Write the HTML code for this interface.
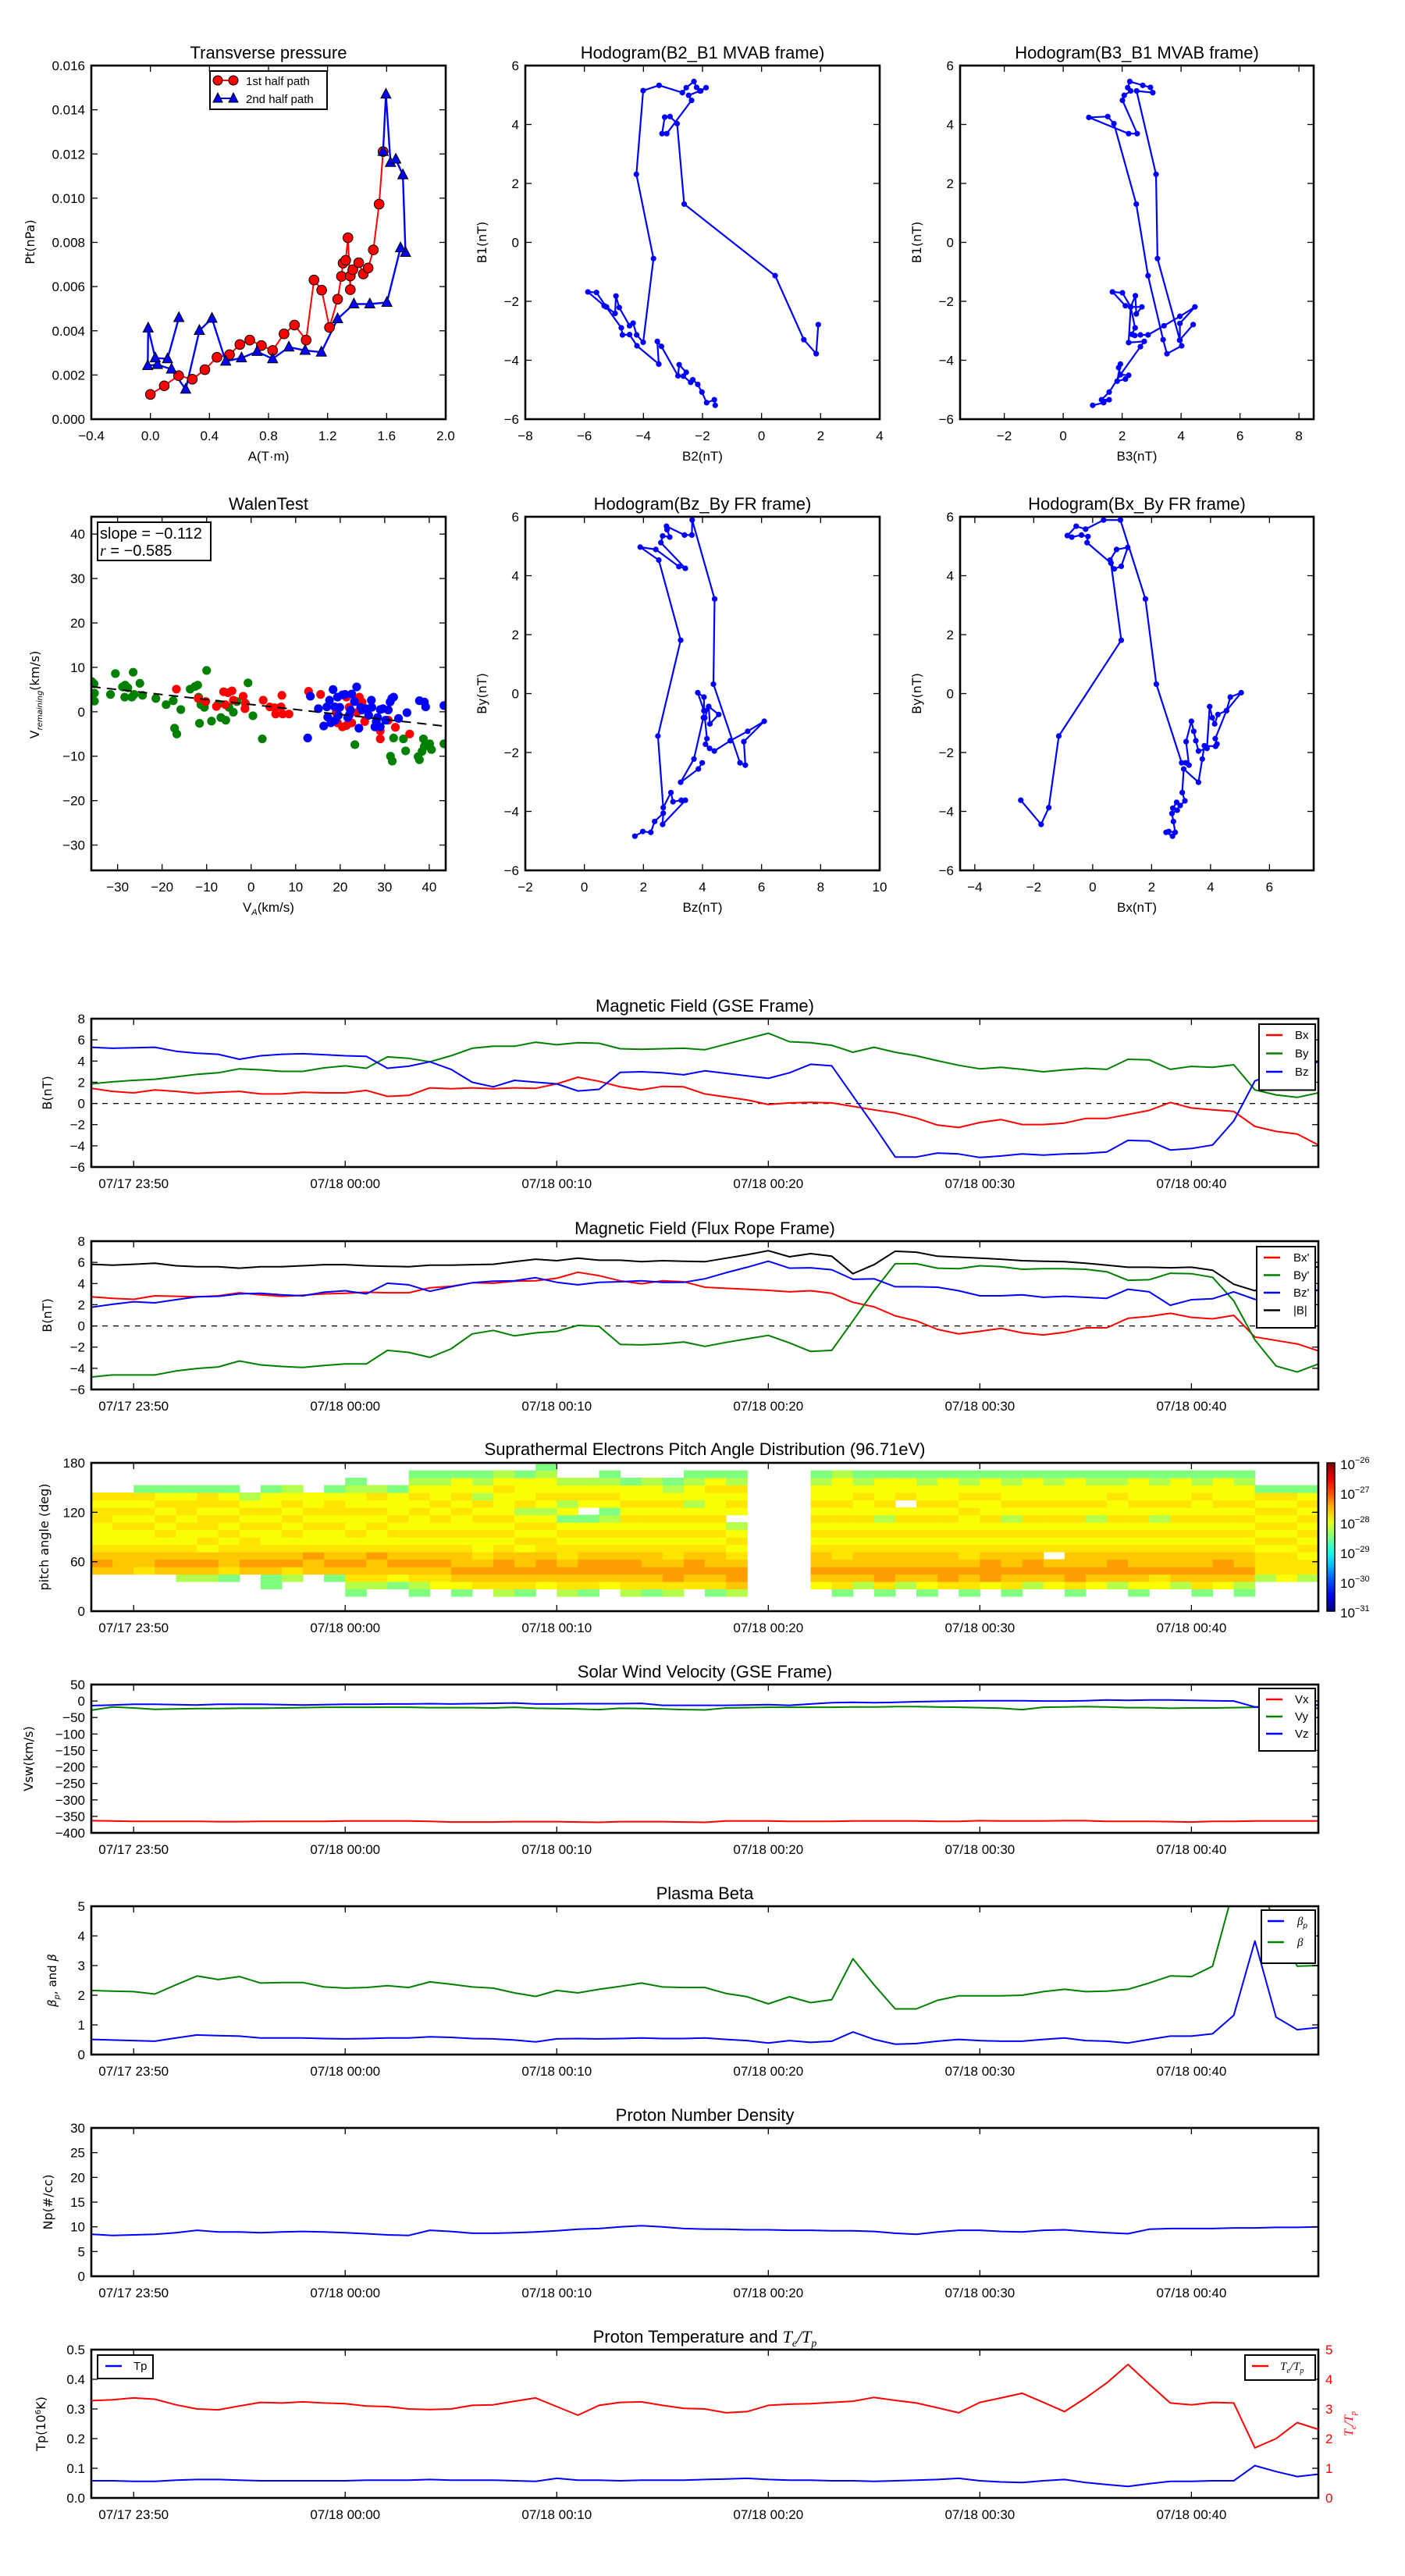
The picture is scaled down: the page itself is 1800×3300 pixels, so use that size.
<!DOCTYPE html>
<html><head><meta charset="utf-8"><title>Flux rope analysis</title>
<style>html,body{margin:0;padding:0;background:#fff}svg{display:block}</style></head>
<body>
<svg id="fig" width="1800" height="3300" viewBox="0 0 1800 3300" xmlns="http://www.w3.org/2000/svg">
<rect x="0" y="0" width="1800" height="3300" fill="#fff"/>
<defs id="defs"></defs>
</svg>
<script>
// ---------------- DATA ----------------
const ptA1=[0,0.094,0.191,0.284,0.369,0.451,0.536,0.606,0.673,0.752,0.828,0.905,0.976,1.055,1.108,1.160,1.213,1.268,1.294,1.305,1.323,1.338,1.354,1.354,1.371,1.411,1.442,1.475,1.510,1.549,1.576];
const ptP1=[0.00112,0.00151,0.00197,0.00181,0.00224,0.00280,0.00292,0.00338,0.00358,0.00333,0.00311,0.00386,0.00426,0.00358,0.00630,0.00584,0.00415,0.00543,0.00646,0.00706,0.00719,0.00821,0.00586,0.00648,0.00676,0.00708,0.00657,0.00684,0.00766,0.00973,0.01211];
const ptA2=[1.576,1.595,1.626,1.662,1.710,1.728,1.694,1.602,1.486,1.378,1.268,1.158,1.048,0.938,0.828,0.723,0.617,0.510,0.417,0.332,0.239,0.143,0.048,-0.018,-0.015,0.033,0.116,0.193];
const ptP2=[0.01211,0.01470,0.01161,0.01176,0.01105,0.00754,0.00775,0.00528,0.00521,0.00521,0.00454,0.00303,0.00311,0.00326,0.00273,0.00306,0.00277,0.00262,0.00456,0.00401,0.00135,0.00226,0.00247,0.00242,0.00412,0.00277,0.00273,0.00459];
const p2x=[1.92,1.85,1.43,0.46,-2.62,-2.86,-3.10,-3.28,-3.37,-3.21,-2.37,-2.47,-2.09,-1.88,-2.06,-2.20,-2.29,-2.55,-2.68,-3.47,-4.01,-4.24,-3.66,-4.01,-4.23,-4.35,-4.47,-4.82,-4.93,-4.96,-5.25,-5.33,-5.88,-5.59,-5.26,-4.75,-4.71,-4.47,-4.22,-3.48,-3.53,-3.39,-2.83,-2.79,-2.55,-2.65,-2.40,-2.33,-2.16,-2.02,-1.86,-1.60,-1.57];
const p2y=[-2.79,-3.78,-3.30,-1.13,1.30,4.03,4.27,4.25,3.69,3.69,4.82,4.99,5.14,5.25,5.14,5.26,5.46,5.25,5.08,5.33,5.15,2.31,-0.55,-3.39,-3.14,-2.74,-2.83,-2.21,-1.82,-2.41,-2.19,-2.15,-1.68,-1.70,-2.19,-2.90,-3.14,-3.13,-3.51,-4.13,-3.36,-3.53,-4.53,-4.15,-4.41,-4.54,-4.75,-4.66,-4.82,-5.08,-5.44,-5.34,-5.53];
const p3x=[4.41,3.95,4.02,3.52,3.39,2.88,2.48,1.72,1.51,0.87,2.22,2.51,2.01,2.07,2.29,2.19,2.26,2.70,2.96,3.04,2.49,3.15,3.20,3.96,3.96,4.47,3.96,3.42,2.88,2.62,2.43,2.33,2.44,2.29,2.11,1.67,2.01,2.29,2.45,2.48,2.67,2.29,2.22,2.75,2.62,1.94,1.88,1.94,1.83,2.11,2.22,1.94,1.56,1.30,1.56,1.37,1.00];
const p3y=[-2.79,-3.32,-3.51,-3.78,-3.30,-1.13,1.30,4.03,4.27,4.24,3.69,3.69,4.82,4.99,5.14,5.25,5.46,5.33,5.26,5.08,5.14,2.31,-0.55,-3.32,-2.75,-2.19,-2.51,-2.83,-3.14,-3.14,-3.16,-3.12,-2.90,-2.19,-2.15,-1.68,-1.71,-2.19,-1.81,-2.43,-2.19,-2.19,-3.40,-3.36,-3.54,-4.49,-4.25,-4.13,-4.71,-4.64,-4.51,-4.49,-5.08,-5.34,-5.34,-5.44,-5.53];
const p5x=[1.71,1.98,2.25,2.38,2.67,2.65,3.42,3.28,3.00,2.93,2.67,2.49,3.26,2.52,1.89,2.42,3.20,3.42,2.59,2.65,2.89,2.80,2.78,3.39,3.64,3.65,4.41,4.37,5.27,5.45,5.40,6.09,5.53,4.94,4.40,4.24,4.10,4.15,4.08,4.21,4.55,4.25,4.21,4.05,4.05,3.84,4.05,4.03,3.71,3.26,3.86,3.99];
const p5y=[-4.84,-4.68,-4.71,-4.34,-4.06,-4.44,-3.62,-3.62,-3.67,-3.36,-3.87,-1.44,1.81,4.53,4.97,4.89,4.31,4.25,5.12,5.35,5.31,5.56,5.68,5.38,5.38,5.89,3.21,0.32,-2.35,-2.43,-1.63,-0.94,-1.28,-1.60,-1.95,-1.86,-1.72,-1.53,-0.82,-0.44,-0.71,-1.03,-0.44,-0.58,-0.12,0.03,-0.58,-0.82,-2.22,-3.01,-2.56,-2.35];
const p6x=[-2.44,-1.75,-1.49,-1.15,0.97,0.62,0.59,0.81,1.19,0.97,0.73,0.62,-0.19,-0.16,-0.38,-0.71,-0.86,-0.56,-0.24,0.37,0.94,1.79,2.16,3.02,3.16,3.27,3.17,3.35,3.43,3.50,3.59,3.88,3.97,4.06,4.14,4.25,4.54,4.67,5.04,4.54,4.16,4.22,4.17,3.79,3.72,3.59,3.09,3.04,3.13,2.97,2.85,2.72,2.87,2.69,2.74,2.80,2.58,2.49,2.71];
const p6y=[-3.62,-4.44,-3.87,-1.44,1.81,4.43,4.53,4.89,4.96,4.32,4.23,4.43,5.12,5.33,5.38,5.31,5.36,5.68,5.58,5.89,5.89,3.21,0.32,-2.35,-2.35,-2.43,-1.63,-0.94,-1.28,-1.60,-1.95,-1.86,-0.44,-0.82,-1.03,-0.71,-0.58,-0.12,0.03,-0.58,-1.53,-1.71,-1.79,-1.77,-2.22,-3.01,-2.56,-3.36,-3.64,-3.80,-3.69,-3.89,-3.96,-4.07,-4.34,-4.71,-4.68,-4.71,-4.84];
const walenGreenX=[-35.8,-35.3,-35.2,-35.2,-31.6,-30.5,-28.9,-28.3,-27.7,-28.4,-26.8,-26.5,-26.3,-25.0,-24.4,-21.4,-19.1,-17.5,-15.8,-17.2,-16.7,-13.7,-12.6,-12.0,-11.8,-11.3,-10.5,-11.6,-10.0,-8.9,-7.4,-6.8,-5.7,-5.0,-4.0,-3.2,-0.7,0.4,2.5,23.3,31.3,31.7,32.0,34.2,34.7,37.5,37.8,38.4,38.7,38.9,40.1,40.5,43.3];
const walenGreenY=[6.8,6.3,4.2,2.4,3.9,8.6,5.6,6.0,5.4,3.3,3.3,8.9,3.9,6.4,3.7,3.0,1.6,2.5,0.5,-3.7,-5.0,5.1,5.7,6.0,3.3,1.6,1.0,-2.6,9.3,-2.1,1.7,-1.3,-1.9,1.0,-0.1,2.3,6.5,-0.9,-6.1,-7.4,-10.0,-11.1,-5.9,-6.1,-8.8,-10.1,-10.8,-8.9,-6.1,-7.8,-7.2,-8.5,-7.2];
const walenRedX=[-16.8,-11.9,-10.2,-7.8,-6.2,-5.2,-4.3,-5.8,-4.0,-1.8,-1.4,-1.3,2.7,4.2,5.3,5.5,6.9,6.7,7.1,8.5,12.9,15.6,19.1,19.4,20.5,21.4,22.6,23.7,24.3,24.9,25.5,29.0,29.0,30.8,32.4,35.6,21.4,22.0];
const walenRedY=[5.1,3.0,2.3,1.2,4.5,4.3,4.7,1.6,2.6,3.5,0.7,1.9,2.6,1.1,0.9,-0.5,3.7,1.1,-0.5,-0.5,4.6,3.9,-0.2,-2.5,-3.4,-3.1,-2.5,-0.2,3.3,2.2,-2.2,-4.3,-6.1,-1.9,-3.5,-5.0,3.3,1.0];
const walenBlueX=[13.3,12.7,15.1,16.3,17.0,17.2,17.6,18.4,18.8,18.9,19.4,19.9,20.5,21.1,21.7,22.3,22.6,23.2,23.7,24.2,24.6,25.8,26.4,27.0,27.1,27.8,28.4,29.0,29.6,30.2,30.8,31.2,31.6,32.0,33.1,35.0,37.8,38.9,39.2,43.3,17.9,19.6,22.0,24.9,28.1,29.0];
const walenBlueY=[3.5,-5.9,0.7,-3.2,1.1,-1.2,2.6,5.0,1.1,-1.9,3.3,1.0,3.8,3.9,-1.3,0.4,4.0,2.3,5.6,-3.7,1.0,0.7,-0.8,2.6,1.0,-3.4,-1.3,0.5,0.7,-1.9,0.4,2.2,3.0,3.3,-1.5,-0.2,2.5,2.2,1.1,1.4,-2.5,-0.8,-0.8,0.4,-2.2,-3.4];
const walenSlope=-0.112;
const walenIntercept=1.64;
const walenR=-0.585;

const minutes=[-2,-1,0,1,2,3,4,5,6,7,8,9,10,11,12,13,14,15,16,17,18,19,20,21,22,23,24,25,26,27,28,29,30,31,32,33,34,35,36,37,38,39,40,41,42,43,44,45,46,47,48,49,50,51,52,53,54,55,56];
const timeTicks=[0,10,20,30,40,50];
const timeTickLabels=['07/17 23:50','07/18 00:00','07/18 00:10','07/18 00:20','07/18 00:30','07/18 00:40'];

const gseBx=[1.43,1.14,1.0,1.28,1.14,0.95,1.05,1.14,0.9,0.9,1.05,1.0,1.0,1.23,0.67,0.76,1.47,1.38,1.47,1.38,1.47,1.43,1.85,2.47,2.09,1.57,1.28,1.61,1.57,0.9,0.62,0.33,-0.1,0.05,0.09,0.05,-0.28,-0.61,-0.9,-1.38,-2.04,-2.27,-1.8,-1.52,-1.99,-1.99,-1.85,-1.42,-1.42,-1.04,-0.66,0.09,-0.43,-0.61,-0.75,-2.17,-2.64,-2.88,-3.92];
const gseBy=[1.85,2.04,2.18,2.28,2.51,2.75,2.89,3.27,3.17,3.03,3.03,3.36,3.55,3.32,4.4,4.26,3.93,4.5,5.21,5.4,5.4,5.78,5.54,5.73,5.68,5.16,5.11,5.16,5.21,5.07,5.59,6.11,6.63,5.83,5.73,5.49,4.83,5.3,4.83,4.5,4.03,3.6,3.27,3.41,3.22,2.99,3.17,3.32,3.22,4.17,4.12,3.22,3.5,3.41,3.65,1.28,0.81,0.57,1.0];
const gseBz=[5.3,5.21,5.25,5.3,4.93,4.74,4.64,4.17,4.5,4.64,4.69,4.6,4.5,4.45,3.32,3.51,3.93,3.22,2.0,1.57,2.18,2.0,1.85,1.18,1.33,2.94,2.99,2.89,2.7,3.08,2.84,2.61,2.37,2.89,3.7,3.55,0.71,-2.12,-5.06,-5.06,-4.68,-4.77,-5.1,-4.96,-4.77,-4.87,-4.77,-4.72,-4.58,-3.49,-3.54,-4.39,-4.25,-3.92,-1.65,2.13,2.84,3.32,3.93];
const frBx=[2.75,2.61,2.51,2.84,2.8,2.75,2.84,3.13,2.94,2.8,2.89,3.03,3.08,3.18,3.13,3.13,3.6,3.74,4.07,4.03,4.22,4.26,4.5,5.07,4.74,4.26,3.98,4.26,4.17,3.65,3.55,3.46,3.36,3.22,3.32,3.08,2.23,1.8,0.95,0.48,-0.33,-0.75,-0.51,-0.23,-0.66,-0.85,-0.61,-0.18,-0.18,0.72,0.9,1.19,0.81,0.67,1.0,-1.04,-1.37,-1.7,-2.36];
const frBy=[-4.82,-4.63,-4.63,-4.63,-4.25,-4.02,-3.87,-3.31,-3.68,-3.83,-3.92,-3.73,-3.59,-3.59,-2.31,-2.5,-2.97,-2.17,-0.75,-0.42,-0.94,-0.66,-0.51,0.05,-0.04,-1.74,-1.79,-1.7,-1.51,-1.93,-1.56,-1.22,-0.89,-1.6,-2.41,-2.31,0.48,3.32,5.87,5.87,5.45,5.4,5.68,5.59,5.35,5.4,5.4,5.35,5.11,4.31,4.36,4.97,4.93,4.59,2.37,-1.32,-3.78,-4.35,-3.59];
const frBz=[1.76,2.04,2.28,2.18,2.47,2.75,2.8,3.03,3.08,2.94,2.84,3.18,3.32,3.03,4.03,3.88,3.27,3.7,4.07,4.22,4.26,4.55,4.12,3.88,4.12,4.17,4.26,4.12,4.12,4.45,5.02,5.54,6.11,5.45,5.49,5.3,4.4,4.45,3.7,3.7,3.65,3.32,2.84,2.84,2.94,2.7,2.8,2.7,2.61,3.46,3.22,1.95,2.47,2.56,3.22,2.51,2.37,2.84,3.41];
const frBt=[5.82,5.73,5.82,5.92,5.68,5.59,5.59,5.45,5.59,5.59,5.68,5.78,5.78,5.68,5.63,5.59,5.73,5.73,5.78,5.82,6.06,6.3,6.16,6.39,6.2,6.2,6.06,6.16,6.11,6.06,6.39,6.72,7.1,6.53,6.82,6.58,4.93,5.78,7.05,6.96,6.58,6.49,6.39,6.3,6.16,6.11,6.06,5.92,5.73,5.54,5.54,5.49,5.54,5.26,3.93,3.32,4.26,5.2,5.59];

// pitch angle distribution: one string per 1-minute column (bottom 0deg -> top 180deg, 9deg bins)
const padCols=[
".....56543334434....",".....55543343434....",".....455433434341...",".....565434343431...",
"....2565433434431...","....2565343443441...","....1455434343431...",".....56544343432....",
"...11565433434331...","....2465434343432...",".....55643343433....","....1565433434431...",
"..1245654343343321..","...24556433434342...","...13565434343331...","..12456543433434321.",
"...3456543434343321.","..13565543433434331.","...4565433434342321.","..24566543434333432.",
"..14565534343243331.","...35665443432343321","..2456544343132432..","..14566543431.3432..",
"...3566543432134321.","..2456654343434331..","..1456554343434332..","..2466544343434321..",
"...4566543434323321.","..14565543434333431.","..2566543432.343421.","....................",
"....................","....................","...3565543434343321.","..14565443434343332.",
"...2565543434334321.","..14665543432343331.","...25655434343.4331.","..13565543434343321.",
"...4665543434343331.","..14565443433434321.","...3666543434334331.","..14565543432343321.",
"...2566543434343331.","...3565.43434343321.","..14665543434343331.","...3565543432343321.",
"...2566543434334321.","..13565543434343331.","...3465543432343321.","...2565543434343331.",
"..14565543434334321.","...3566543434343331.","..12565543434343321.","....2444343434341...",
"....3444343434341...","....2443434343431..."];
const padLevel={'1':-28.5,'2':-28.25,'3':-27.9,'4':-27.75,'5':-27.6,'6':-27.4};
const padBinDeg=9;

const velVx=[-363,-364,-365,-365,-365,-365,-366,-366,-365,-365,-365,-365,-364,-364,-364,-364,-365,-367,-367,-367,-366,-366,-366,-367,-368,-366,-366,-366,-367,-368,-364,-364,-364,-365,-365,-365,-364,-364,-364,-364,-365,-365,-363,-364,-364,-364,-363,-363,-365,-365,-365,-366,-367,-365,-365,-364,-364,-364,-364];
const velVy=[-28,-18,-21,-25,-24,-23,-23,-22,-22,-21,-20,-19,-19,-19,-19,-19,-20,-20,-20,-21,-19,-22,-23,-24,-26,-22,-23,-24,-26,-27,-21,-20,-19,-19,-19,-19,-18,-18,-17,-17,-18,-19,-20,-22,-26,-19,-18,-17,-18,-20,-20,-22,-21,-21,-20,-19,-18,-22,-22];
const velVz=[-14,-12,-10,-10,-11,-12,-10,-10,-10,-11,-12,-11,-10,-10,-9,-9,-8,-9,-8,-7,-6,-9,-9,-8,-8,-8,-7,-13,-13,-13,-13,-12,-11,-13,-9,-5,-4,-5,-4,-2,-1,0,1,1,1,0,0,1,3,2,3,3,2,1,0,-18,-14,-12,-12];
const betaTotal=[2.16,2.14,2.12,2.04,2.35,2.65,2.53,2.63,2.41,2.43,2.43,2.28,2.24,2.26,2.32,2.26,2.45,2.37,2.28,2.24,2.08,1.96,2.16,2.08,2.2,2.3,2.41,2.28,2.26,2.26,2.06,1.95,1.71,1.95,1.75,1.85,3.23,2.35,1.54,1.54,1.83,1.98,1.98,1.98,2.0,2.12,2.2,2.12,2.14,2.2,2.41,2.65,2.63,2.98,5.6,6.5,4.2,2.98,3.0];
const betaProton=[0.51,0.49,0.47,0.45,0.56,0.66,0.64,0.62,0.56,0.56,0.56,0.54,0.53,0.54,0.56,0.56,0.6,0.58,0.54,0.53,0.49,0.43,0.53,0.54,0.53,0.54,0.56,0.54,0.54,0.56,0.51,0.47,0.39,0.47,0.41,0.45,0.76,0.51,0.35,0.37,0.45,0.51,0.47,0.45,0.45,0.51,0.56,0.47,0.45,0.39,0.51,0.62,0.62,0.7,1.32,3.83,1.26,0.84,0.91];
const density=[8.5,8.26,8.37,8.5,8.8,9.3,8.95,8.95,8.8,8.95,9.07,8.95,8.8,8.6,8.37,8.26,9.3,9.07,8.7,8.7,8.8,8.95,9.2,9.5,9.65,10.0,10.23,10.0,9.65,9.53,9.5,9.4,9.4,9.3,9.3,9.2,9.2,9.07,8.7,8.5,8.95,9.3,9.3,9.07,8.95,9.3,9.4,9.07,8.8,8.6,9.5,9.65,9.65,9.65,9.77,9.77,9.88,9.88,10.0];
const tempTp=[0.058,0.058,0.056,0.056,0.06,0.062,0.062,0.06,0.058,0.058,0.058,0.058,0.058,0.06,0.06,0.06,0.062,0.06,0.06,0.06,0.058,0.056,0.066,0.06,0.06,0.058,0.06,0.06,0.06,0.062,0.064,0.066,0.062,0.06,0.06,0.058,0.058,0.056,0.058,0.06,0.062,0.066,0.058,0.054,0.052,0.058,0.062,0.052,0.045,0.039,0.048,0.056,0.056,0.058,0.058,0.109,0.089,0.072,0.08];
const tempRatio=[3.28,3.31,3.37,3.33,3.14,3.0,2.97,3.1,3.22,3.2,3.24,3.2,3.18,3.1,3.08,3.0,2.98,3.0,3.12,3.14,3.26,3.37,3.08,2.79,3.12,3.22,3.24,3.12,3.02,3.0,2.87,2.91,3.12,3.16,3.18,3.22,3.26,3.39,3.29,3.2,3.04,2.87,3.22,3.37,3.53,3.22,2.91,3.37,3.88,4.5,3.84,3.2,3.14,3.22,3.2,1.69,2.0,2.54,2.31];

// ---------------- DRAWING ----------------
const NS='http://www.w3.org/2000/svg';
const svg=document.getElementById('fig');
const defs=document.getElementById('defs');
const FONT='"Liberation Sans", Arial, sans-serif';
const DFONT='"DejaVu Sans", "Liberation Sans", sans-serif';
let clipN=0;
function mk(tag,attrs,parent,name){
  const e=document.createElementNS(NS,tag);
  for(const k in attrs) e.setAttribute(k,attrs[k]);
  
  
  (parent||svg).appendChild(e);
  return e;
}
function txt(s,x,y,opt,parent,name){
  const t=mk('text',Object.assign({x:x,y:y,'font-family':FONT,'font-size':17,fill:'#000'},opt||{}),parent,name);
  t.textContent=s;
  return t;
}
function fmt(v,d){const s=(d===undefined)?String(v):v.toFixed(d);return s.replace('-','\u2212');}
function axes(o){
  const g=mk('g',{},svg,o.name);
  const sx=v=>o.x+(v-o.xmin)/(o.xmax-o.xmin)*o.w;
  const sy=v=>o.y+o.h-(v-o.ymin)/(o.ymax-o.ymin)*o.h;
  const cid='clip'+(clipN++);
  const cp=mk('clipPath',{id:cid},defs,'clip-path');
  mk('rect',{x:o.x,y:o.y,width:o.w,height:o.h},cp,'clip-rect');
  const plot=mk('g',{'clip-path':'url(#'+cid+')'},g,'plot-area');
  return {o:o,sx:sx,sy:sy,g:g,plot:plot};
}
function finish(a,xt,xl,yt,yl,opt){
  opt=opt||{};
  const o=a.o,g=a.g;
  const tg=mk('g',{stroke:'#000','stroke-width':1.3},g,'ticks');
  xt.forEach((v,i)=>{
    const X=a.sx(v);
    mk('line',{x1:X,x2:X,y1:o.y+o.h,y2:o.y+o.h-8},tg,'x-tick');
    mk('line',{x1:X,x2:X,y1:o.y,y2:o.y+8},tg,'x-tick-top');
    txt(xl[i],X,o.y+o.h+(opt.xlOff||27),{'text-anchor':'middle'},g,'x-tick-label');
  });
  yt.forEach((v,i)=>{
    const Y=a.sy(v);
    mk('line',{x1:o.x,x2:o.x+8,y1:Y,y2:Y},tg,'y-tick');
    if(!opt.noRightTicks) mk('line',{x1:o.x+o.w,x2:o.x+o.w-8,y1:Y,y2:Y},tg,'y-tick-right');
    txt(yl[i],o.x-8,Y+6,{'text-anchor':'end'},g,'y-tick-label');
  });
  mk('rect',{x:o.x,y:o.y,width:o.w,height:o.h,fill:'none',stroke:'#000','stroke-width':2.6},g,'axes-frame');
}
function line(a,xs,ys,color,name,w,dash){
  const d=xs.map((x,i)=>(i?'L':'M')+a.sx(x).toFixed(1)+','+a.sy(ys[i]).toFixed(1)).join('');
  const attrs={d:d,fill:'none',stroke:color,'stroke-width':w||2,'stroke-linejoin':'round'};
  if(dash) attrs['stroke-dasharray']=dash;
  return mk('path',attrs,a.plot,name);
}
function title(s,x,y,name,size){return txt(s,x,y,{'text-anchor':'middle','font-size':size||22},svg,name);}
function ylabel(s,x,y,name,color){return txt(s,x,y,{'text-anchor':'middle','font-family':DFONT,'font-size':16,transform:'rotate(-90 '+x+' '+y+')',fill:color||'#000'},svg,name);}
function rangeTicks(a,b,s){const r=[];for(let v=a;v<=b+1e-9;v+=s)r.push(Math.round(v*1e6)/1e6);return r;}

// ---- Panel 1: Transverse pressure
(function(){
  const a=axes({name:'transverse-pressure-chart',x:117,y:84,w:454,h:453,xmin:-0.4,xmax:2.0,ymin:0,ymax:0.016});
  line(a,ptA1,ptP1,'#ff0000','first-half-line',2);
  line(a,ptA2,ptP2,'#0000ff','second-half-line',2.4);
  ptA1.forEach((x,i)=>{mk('circle',{cx:a.sx(x),cy:a.sy(ptP1[i]),r:6.3,fill:'#ff0000',stroke:'#000','stroke-width':1},a.plot,'first-half-marker');});
  ptA2.forEach((x,i)=>{const X=a.sx(x),Y=a.sy(ptP2[i]);mk('polygon',{points:(X)+','+(Y-7.5)+' '+(X-6.5)+','+(Y+5)+' '+(X+6.5)+','+(Y+5),fill:'#0000ff',stroke:'#000','stroke-width':1},a.plot,'second-half-marker');});
  const xt=rangeTicks(-0.4,2.0,0.4), yt=rangeTicks(0,0.016,0.002);
  finish(a,xt,xt.map(v=>fmt(v,1)),yt,yt.map(v=>fmt(v,3)));
  const lg=mk('g',{},svg,'pressure-legend');
  mk('rect',{x:269,y:91,width:150,height:49,fill:'#fff',stroke:'#000','stroke-width':2},lg,'legend-box');
  mk('line',{x1:279,x2:299,y1:103,y2:103,stroke:'#ff0000','stroke-width':2},lg,'legend-line-first');
  [279,299].forEach(X=>{mk('circle',{cx:X,cy:103,r:6,fill:'#ff0000',stroke:'#000','stroke-width':1},lg,'legend-marker-first');});
  txt('1st half path',315,109,{'font-size':15},lg,'legend-label-first');
  mk('line',{x1:279,x2:299,y1:126,y2:126,stroke:'#0000ff','stroke-width':2},lg,'legend-line-second');
  [279,299].forEach(X=>{mk('polygon',{points:X+','+(126-7)+' '+(X-6)+','+(126+5)+' '+(X+6)+','+(126+5),fill:'#0000ff',stroke:'#000','stroke-width':1},lg,'legend-marker-second');});
  txt('2nd half path',315,132,{'font-size':15},lg,'legend-label-second');
  title('Transverse pressure',344,75,'pressure-title');
  txt('A(T\u00b7m)',344,590,{'text-anchor':'middle'},svg,'pressure-x-label');
  ylabel('Pt(nPa)',44,310,'pressure-y-label');
})();

// ---- Hodograms
function hodo(o,xs,ys,xt,ttl,xlab,ylab){
  const a=axes(o);
  line(a,xs,ys,'#0000ff',o.name+'-path',2.2);
  xs.forEach((x,i)=>{mk('circle',{cx:a.sx(x),cy:a.sy(ys[i]),r:3.6,fill:'#0000ff'},a.plot,'hodogram-point');});
  const yt=rangeTicks(-6,6,2);
  finish(a,xt,xt.map(v=>fmt(v)),yt,yt.map(v=>fmt(v)));
  title(ttl,o.x+o.w/2,o.y-9,o.name+'-title');
  txt(xlab,o.x+o.w/2,o.y+o.h+53,{'text-anchor':'middle'},svg,o.name+'-x-label');
  ylabel(ylab,o.x-50,o.y+o.h/2,o.name+'-y-label');
}
hodo({name:'hodogram-b2-b1',x:673,y:84,w:454,h:453,xmin:-8,xmax:4,ymin:-6,ymax:6},p2x,p2y,rangeTicks(-8,4,2),'Hodogram(B2_B1 MVAB frame)','B2(nT)','B1(nT)');
hodo({name:'hodogram-b3-b1',x:1230,y:84,w:453,h:453,xmin:-3.5,xmax:8.5,ymin:-6,ymax:6},p3x,p3y,rangeTicks(-2,8,2),'Hodogram(B3_B1 MVAB frame)','B3(nT)','B1(nT)');
hodo({name:'hodogram-bz-by',x:673,y:662,w:454,h:453,xmin:-2,xmax:10,ymin:-6,ymax:6},p5x,p5y,rangeTicks(-2,10,2),'Hodogram(Bz_By FR frame)','Bz(nT)','By(nT)');
hodo({name:'hodogram-bx-by',x:1230,y:662,w:453,h:453,xmin:-4.5,xmax:7.5,ymin:-6,ymax:6},p6x,p6y,rangeTicks(-4,6,2),'Hodogram(Bx_By FR frame)','Bx(nT)','By(nT)');

// ---- Walen test
(function(){
  const a=axes({name:'walen-test-chart',x:117,y:662,w:454,h:453,xmin:-35.9,xmax:43.7,ymin:-35.7,ymax:43.9});
  [[walenGreenX,walenGreenY,'#008000','walen-point-green'],[walenRedX,walenRedY,'#ff0000','walen-point-red'],[walenBlueX,walenBlueY,'#0000ff','walen-point-blue']].forEach(s=>{
    s[0].forEach((x,i)=>{mk('circle',{cx:a.sx(x),cy:a.sy(s[1][i]),r:5.6,fill:s[2]},a.plot,s[3]);});
  });
  const fx=[a.o.xmin,a.o.xmax];
  line(a,fx,fx.map(x=>walenSlope*x+walenIntercept),'#000','walen-fit-line',2,'12,8');
  const xt=rangeTicks(-30,40,10),yt=rangeTicks(-30,40,10);
  finish(a,xt,xt.map(v=>fmt(v)),yt,yt.map(v=>fmt(v)));
  const b=mk('g',{},svg,'walen-stats-box');
  mk('rect',{x:125,y:669,width:145,height:49,fill:'#fff',stroke:'#000','stroke-width':2},b,'stats-box');
  txt('slope = '+fmt(walenSlope),128,690,{'font-size':20},b,'slope-text');
  const r=txt('',128,712,{'font-size':20},b,'r-text');
  r.innerHTML='<tspan font-style="italic" font-family="Liberation Serif, serif">r</tspan> = '+fmt(walenR);
  title('WalenTest',344,653,'walen-title');
  const xl=txt('',344,1168,{'text-anchor':'middle'},svg,'walen-x-label');
  xl.innerHTML='V<tspan font-size="11" dy="4" font-style="italic">A</tspan><tspan dy="-4">(km/s)</tspan>';
  const yl=txt('',50,890,{'text-anchor':'middle','font-family':DFONT,'font-size':16,transform:'rotate(-90 50 890)'},svg,'walen-y-label');
  yl.innerHTML='V<tspan font-size="10" dy="4" font-style="italic">remaining</tspan><tspan dy="-4">(km/s)</tspan>';
})();

// ---- Time series panels
const TX=117,TW=1572,TH=190;
function tpanel(name,top,ymin,ymax){
  return axes({name:name,x:TX,y:top,w:TW,h:TH,xmin:-2,xmax:56,ymin:ymin,ymax:ymax});
}
function legend(name,x,y,w,entries,lineX,textX,dy){
  const g=mk('g',{},svg,name);
  mk('rect',{x:x,y:y,width:w,height:entries.length*dy+14,fill:'#fff',stroke:'#000','stroke-width':2},g,'legend-box');
  entries.forEach((e,i)=>{
    const Y=y+14+i*dy;
    mk('line',{x1:lineX,x2:lineX+21,y1:Y,y2:Y,stroke:e[1],'stroke-width':2.4},g,'legend-line');
    const t=txt('',textX,Y+5,{'font-size':15},g,'legend-label');
    t.innerHTML=e[0];
  });
  return g;
}
const tl=timeTickLabels;

// GSE
(function(){
  const a=tpanel('magnetic-field-gse-chart',1305,-6,8);
  line(a,[-2,56],[0,0],'#000','zero-line',1.2,'7,7');
  line(a,minutes,gseBx,'#ff0000','gse-bx-line');
  line(a,minutes,gseBy,'#008000','gse-by-line');
  line(a,minutes,gseBz,'#0000ff','gse-bz-line');
  const yt=rangeTicks(-6,8,2);
  finish(a,timeTicks,tl,yt,yt.map(v=>fmt(v)));
  legend('gse-legend',1613,1312,72,[['Bx','#ff0000'],['By','#008000'],['Bz','#0000ff']],1622,1659,23.5);
  title('Magnetic Field (GSE Frame)',903,1296,'gse-title');
  ylabel('B(nT)',66,1400,'gse-y-label');
})();
// Flux rope
(function(){
  const a=tpanel('magnetic-field-fr-chart',1590,-6,8);
  line(a,[-2,56],[0,0],'#000','zero-line',1.2,'7,7');
  line(a,minutes,frBx,'#ff0000','fr-bx-line');
  line(a,minutes,frBy,'#008000','fr-by-line');
  line(a,minutes,frBz,'#0000ff','fr-bz-line');
  line(a,minutes,frBt,'#000000','fr-bt-line');
  const yt=rangeTicks(-6,8,2);
  finish(a,timeTicks,tl,yt,yt.map(v=>fmt(v)));
  legend('fr-legend',1610,1597,75,[["Bx'",'#ff0000'],["By'",'#008000'],["Bz'",'#0000ff'],['|B|','#000']],1619,1657,22.5);
  title('Magnetic Field (Flux Rope Frame)',903,1581,'fr-title');
  ylabel('B(nT)',66,1685,'fr-y-label');
})();
// PAD
function jet(v){v=Math.max(0,Math.min(1,v));const c=x=>Math.round(255*Math.max(0,Math.min(1,x)));return 'rgb('+c(1.5-Math.abs(4*v-3))+','+c(1.5-Math.abs(4*v-2))+','+c(1.5-Math.abs(4*v-1))+')';}
(function(){
  const a=tpanel('pitch-angle-chart',1874,0,180);
  const cg=mk('g',{},a.plot,'pad-cells');
  padCols.forEach((col,k)=>{
    const t0=minutes[k],t1=minutes[k]+1;
    for(let b=0;b<col.length;b++){
      const ch=col[b];
      if(ch==='.') continue;
      const lv=padLevel[ch];
      const x0=a.sx(t0),x1=a.sx(t1),y0=a.sy((b+1)*padBinDeg),y1=a.sy(b*padBinDeg);
      mk('rect',{x:x0.toFixed(1),y:y0.toFixed(1),width:(x1-x0+0.6).toFixed(1),height:(y1-y0+0.6).toFixed(1),fill:jet((lv+31)/5)},cg,'pad-cell');
    }
  });
  const yt=[0,60,120,180];
  finish(a,timeTicks,tl,yt,yt.map(v=>fmt(v)));
  const gr=mk('linearGradient',{id:'jetgrad',x1:0,y1:1,x2:0,y2:0},defs,'jet-gradient');
  for(let i=0;i<=10;i++){mk('stop',{offset:(i/10),'stop-color':jet(i/10)},gr,'gradient-stop');}
  const cb=mk('g',{},svg,'pad-colorbar');
  mk('rect',{x:1700,y:1874,width:10,height:190,fill:'url(#jetgrad)',stroke:'#000','stroke-width':1.5},cb,'colorbar-bar');
  [-26,-27,-28,-29,-30,-31].forEach((p,i)=>{
    const Y=1874+i*38;
    const t=txt('',1717,Y+8,{'font-size':17},cb,'colorbar-label');
    t.innerHTML='10<tspan font-size="11" dy="-8">'+fmt(p)+'</tspan>';
  });
  title('Suprathermal Electrons Pitch Angle Distribution (96.71eV)',903,1864,'pad-title');
  ylabel('pitch angle (deg)',62,1969,'pad-y-label');
})();
// Velocity
(function(){
  const a=tpanel('solar-wind-velocity-chart',2158,-400,50);
  line(a,minutes,velVx,'#ff0000','vx-line');
  line(a,minutes,velVy,'#008000','vy-line');
  line(a,minutes,velVz,'#0000ff','vz-line');
  const yt=rangeTicks(-400,50,50);
  finish(a,timeTicks,tl,yt,yt.map(v=>fmt(v)));
  legend('velocity-legend',1613,2163,72,[['Vx','#ff0000'],['Vy','#008000'],['Vz','#0000ff']],1622,1659,22);
  title('Solar Wind Velocity (GSE Frame)',903,2149,'velocity-title');
  ylabel('Vsw(km/s)',42,2253,'velocity-y-label');
})();
// Beta
(function(){
  const a=tpanel('plasma-beta-chart',2442,0,5);
  line(a,minutes,betaTotal,'#008000','beta-line');
  line(a,minutes,betaProton,'#0000ff','beta-p-line');
  const yt=rangeTicks(0,5,1);
  finish(a,timeTicks,tl,yt,yt.map(v=>fmt(v)));
  legend('beta-legend',1616,2447,69,[['<tspan font-style="italic" font-family="Liberation Serif, serif">\u03b2</tspan><tspan font-size="10" dy="4" font-style="italic">p</tspan>','#0000ff'],['<tspan font-style="italic" font-family="Liberation Serif, serif">\u03b2</tspan>','#008000']],1624,1662,27);
  title('Plasma Beta',903,2433,'beta-title');
  const yl=txt('',72,2537,{'text-anchor':'middle','font-family':DFONT,'font-size':15,transform:'rotate(-90 72 2537)'},svg,'beta-y-label');
  yl.innerHTML='<tspan font-style="italic">\u03b2</tspan><tspan font-size="10" dy="4" font-style="italic">p</tspan><tspan dy="-4">, and </tspan><tspan font-style="italic">\u03b2</tspan>';
})();
// Density
(function(){
  const a=tpanel('proton-density-chart',2726,0,30);
  line(a,minutes,density,'#0000ff','density-line');
  const yt=rangeTicks(0,30,5);
  finish(a,timeTicks,tl,yt,yt.map(v=>fmt(v)));
  title('Proton Number Density',903,2717,'density-title');
  ylabel('Np(#/cc)',67,2821,'density-y-label');
})();
// Temperature
(function(){
  const a=tpanel('proton-temperature-chart',3010,0,0.5);
  const ar=axes({name:'temperature-ratio-axis',x:TX,y:3010,w:TW,h:TH,xmin:-2,xmax:56,ymin:0,ymax:5});
  line(ar,minutes,tempRatio,'#ff0000','te-tp-line');
  line(a,minutes,tempTp,'#0000ff','tp-line');
  const yt=rangeTicks(0,0.5,0.1);
  finish(a,timeTicks,tl,yt,yt.map(v=>fmt(v,1)),{noRightTicks:true});
  const rg=mk('g',{},svg,'right-axis');
  [0,1,2,3,4,5].forEach(v=>{
    const Y=ar.sy(v);
    mk('line',{x1:TX+TW,x2:TX+TW-8,y1:Y,y2:Y,stroke:'#000','stroke-width':1.3},rg,'right-tick');
    txt(String(v),TX+TW+9,Y+6,{fill:'#ff0000'},rg,'right-tick-label');
  });
  legend('tp-legend',125,3017,71,[['Tp','#0000ff']],135,171,16);
  legend('te-tp-legend',1595,3017,90,[['<tspan font-style="italic" font-family="Liberation Serif, serif">T<tspan font-size="10" dy="4">e</tspan><tspan dy="-4">/T</tspan><tspan font-size="10" dy="4">p</tspan></tspan>','#ff0000']],1604,1640,18);
  const t=title('',903,3001,'temperature-title');
  t.innerHTML='Proton Temperature and <tspan font-style="italic" font-family="Liberation Serif, serif">T<tspan font-size="14" dy="5">e</tspan><tspan dy="-5">/T</tspan><tspan font-size="14" dy="5">p</tspan></tspan>';
  const yl=txt('',58,3105,{'text-anchor':'middle','font-family':DFONT,'font-size':16,transform:'rotate(-90 58 3105)'},svg,'tp-y-label');
  yl.innerHTML='Tp(10<tspan font-size="10" dy="-6">6</tspan><tspan dy="6">K)</tspan>';
  const yr=txt('',1733,3105,{'text-anchor':'middle','font-family':'Liberation Serif, serif','font-style':'italic','font-size':16,fill:'#ff0000',transform:'rotate(-90 1733 3105)'},svg,'te-tp-y-label');
  yr.innerHTML='T<tspan font-size="10" dy="4">e</tspan><tspan dy="-4">/T</tspan><tspan font-size="10" dy="4">p</tspan>';
})();
</script>
</body></html>
